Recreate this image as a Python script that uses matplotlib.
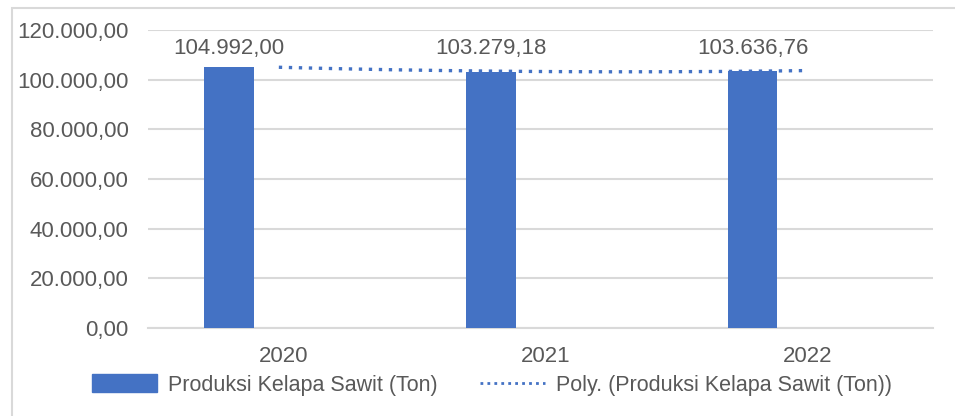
import numpy as np
import matplotlib
matplotlib.use("Agg")
import matplotlib.pyplot as plt
from matplotlib.patches import Rectangle
from matplotlib.lines import Line2D

plt.rcParams['font.family'] = ['Liberation Sans Narrow', 'Liberation Sans', 'DejaVu Sans']

years = ['2020', '2021', '2022']
produksi = [104992.00, 103279.18, 103636.76]
value_labels = ['104.992,00', '103.279,18', '103.636,76']
yticks = [0, 20000, 40000, 60000, 80000, 100000, 120000]
ytick_labels = ['0,00', '20.000,00', '40.000,00', '60.000,00', '80.000,00', '100.000,00', '120.000,00']

blue = '#4472C4'
gray = '#595959'

fig = plt.figure(figsize=(9.55, 4.16), dpi=100)
# chart area border
fig.patches.append(Rectangle((12 / 955, -0.1), 1.2, 1 - 8 / 416 + 0.1, transform=fig.transFigure,
                             fill=False, edgecolor='#D9D9D9', linewidth=1.5))
ax = fig.add_axes([148 / 955, 1 - 328 / 416, 785 / 955, 298 / 416])

x = np.arange(len(years))
offset = -0.19
bars = ax.bar(x + offset, produksi, width=0.19, color=blue, zorder=3)
for xi, v, lab in zip(x, produksi, value_labels):
    ax.text(xi + offset, 112500, lab, ha='center', va='center', fontsize=16, color=gray)

# polynomial (order 2) trendline
coef = np.polyfit(x, produksi, 2)
xs = np.linspace(0, 2, 200)
ax.plot(xs, np.polyval(coef, xs), color=blue, linestyle=(0, (1, 2)), linewidth=2.4, zorder=4)

ax.set_xlim(-0.5, 2.5)
ax.set_ylim(0, 120000)
ax.set_yticks(yticks)
ax.set_yticklabels(ytick_labels)
ax.set_xticks(x + 0.02)
ax.set_xticklabels(years)
ax.grid(axis='y', color='#D9D9D9', linewidth=1.5, zorder=0)
for s in ['top', 'right', 'left']:
    ax.spines[s].set_visible(False)
ax.spines['bottom'].set_color('#D9D9D9')
ax.spines['bottom'].set_linewidth(1.5)
ax.tick_params(axis='both', length=0, labelsize=16, labelcolor=gray)
ax.tick_params(axis='x', pad=13)
ax.tick_params(axis='y', pad=14)

handles = [Rectangle((0, 0), 1, 1, color=blue),
           Line2D([0], [0], color=blue, linestyle=(0, (1, 1.5)), linewidth=2)]
fig.legend(handles, ['Produksi Kelapa Sawit (Ton)', 'Poly. (Produksi Kelapa Sawit (Ton))'],
           loc='center', bbox_to_anchor=(492 / 955, 1 - 385 / 416), ncol=2, frameon=False,
           fontsize=15.5, labelcolor=gray, handlelength=3.0, handleheight=0.9,
           columnspacing=2.0, handletextpad=0.5, borderpad=0.1)

fig.savefig('out.png', dpi=100)
